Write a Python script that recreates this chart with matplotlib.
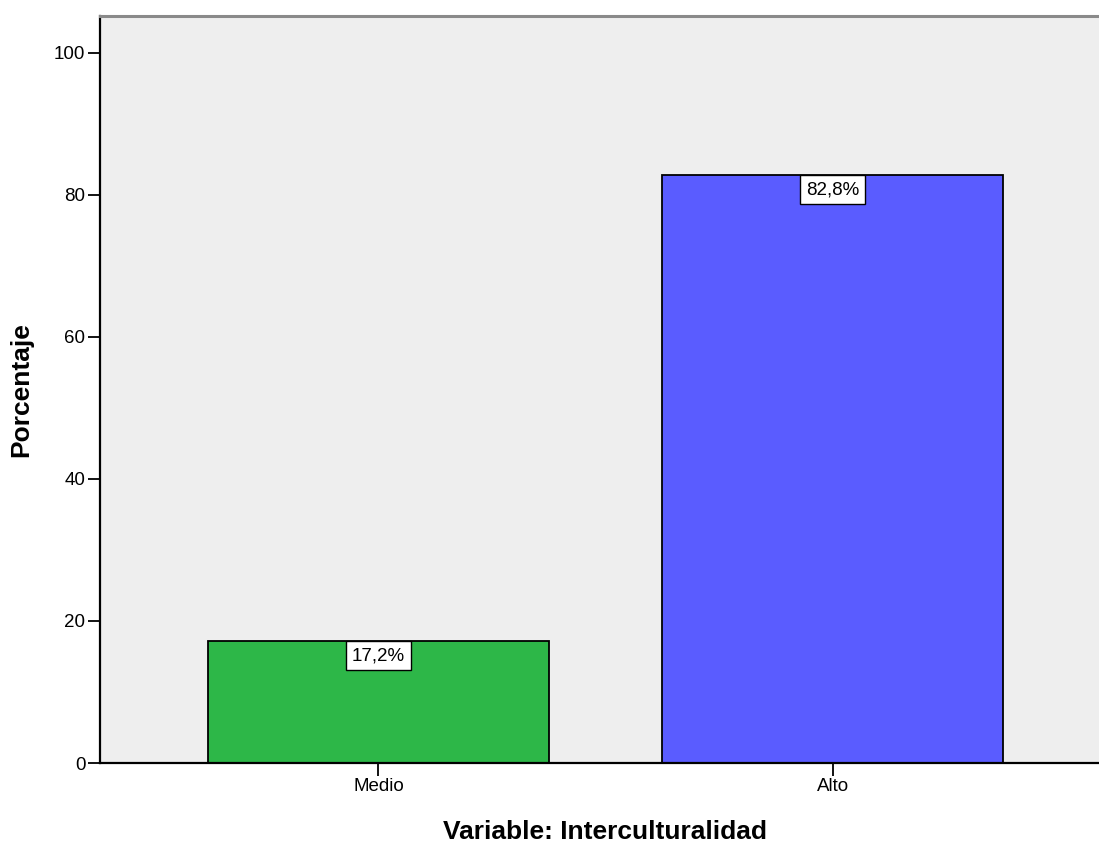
import matplotlib
matplotlib.use("Agg")
import matplotlib.pyplot as plt

# porcentaje por nivel
categorias = ["Medio", "Alto"]
porcentajes = [17.2, 82.8]
etiquetas = ["17,2%", "82,8%"]
colores = ["#2DB748", "#5A5CFF"]

plt.rcParams['font.family'] = ['Liberation Sans', 'DejaVu Sans']

fig = plt.figure(figsize=(10.99, 8.43), dpi=100)
ax = fig.add_axes([100/1099, 80/843, 1011/1099, 747/843])
ax.set_facecolor("#EEEEEE")

x = list(range(len(categorias)))
ax.bar(x, porcentajes, width=0.751, color=colores, edgecolor="black", linewidth=1.3, zorder=2)

for xi, v, txt in zip(x, porcentajes, etiquetas):
    ax.annotate(txt, (xi, v), xytext=(0, -4.6), textcoords="offset points",
                ha="center", va="top", fontsize=13.5, zorder=3,
                bbox=dict(boxstyle="square,pad=0.32", fc="white", ec="black", lw=1.0))

ax.set_xlim(-0.613, 1.613)
ax.set_ylim(0, 105.2)
ax.set_xticks(x)
ax.set_xticklabels(categorias)
ax.set_yticks([0, 20, 40, 60, 80, 100])
ax.tick_params(axis="both", length=9, width=1.3, labelsize=13.5, pad=1.5, colors="black")

ax.spines["right"].set_visible(False)
ax.spines["top"].set_color("#8A8A8A")
ax.spines["top"].set_linewidth(2.2)
ax.spines["left"].set_linewidth(1.6)
ax.spines["bottom"].set_linewidth(1.6)

ax.set_xlabel("Variable: Interculturalidad", fontsize=19, fontweight="bold", labelpad=18)
ax.set_ylabel("Porcentaje", fontsize=19, fontweight="bold", labelpad=15)

fig.savefig("out.png", dpi=100)
